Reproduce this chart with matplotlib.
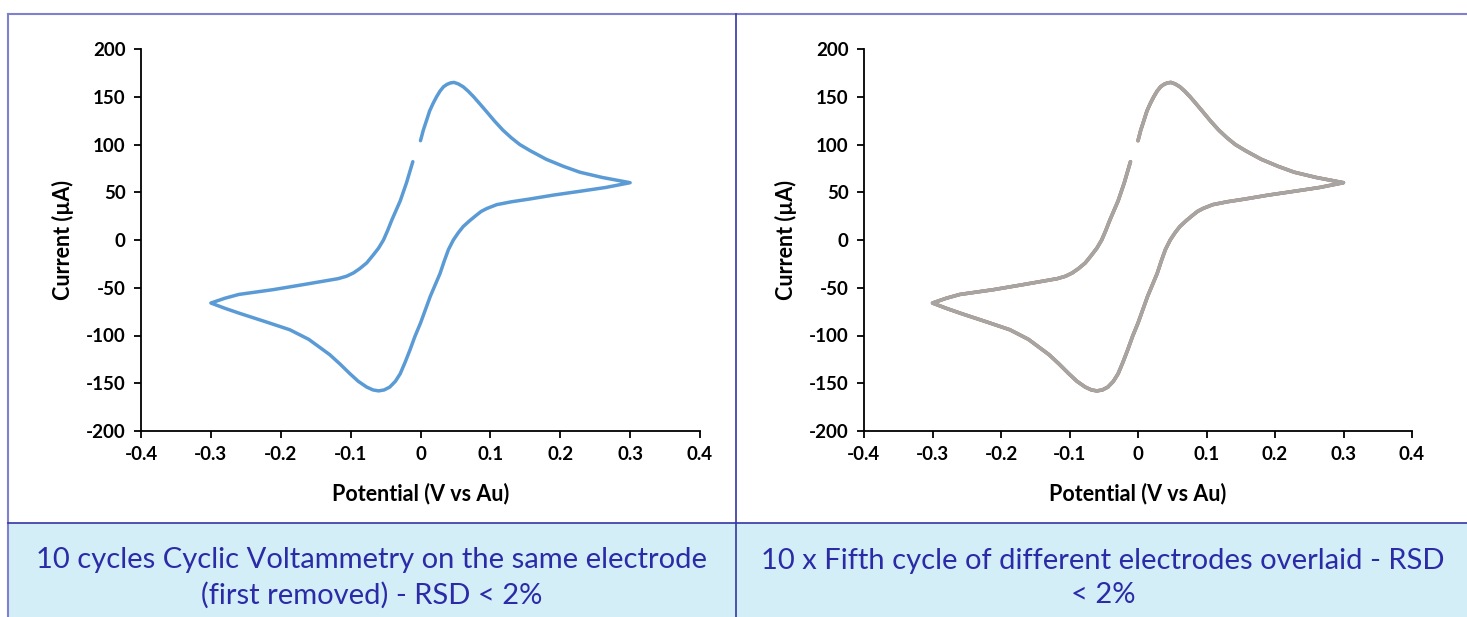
import matplotlib
matplotlib.use("Agg")
import matplotlib.pyplot as plt
from matplotlib.patches import Rectangle
from matplotlib.lines import Line2D
from matplotlib.ticker import FuncFormatter

plt.rcParams["axes.unicode_minus"] = False

# potential (V vs Au) and current (uA), one CV cycle
# starts just after 0 V, oxidation peak, vertex at 0.3 V, back through the
# reduction peak to -0.3 V and forward again up to -0.01 V (gap near 0 V)
potential = [0.000, 0.004, 0.009, 0.013, 0.018, 0.023, 0.028, 0.033, 0.038,
             0.043, 0.048, 0.054, 0.061, 0.068, 0.076, 0.085, 0.095, 0.106,
             0.118, 0.130, 0.142, 0.157, 0.180, 0.205, 0.228, 0.260, 0.300,
             0.265, 0.228, 0.190, 0.157, 0.130, 0.109, 0.095, 0.087, 0.080,
             0.070, 0.061, 0.054, 0.047, 0.040, 0.034, 0.028, 0.021, 0.014,
             0.007, 0.000, -0.008, -0.015, -0.022, -0.029, -0.036, -0.044,
             -0.052, -0.060, -0.068, -0.077, -0.089, -0.101, -0.115, -0.130,
             -0.160, -0.187, -0.220, -0.258, -0.280, -0.300,
             -0.280, -0.260, -0.211, -0.170, -0.130, -0.118, -0.106, -0.096,
             -0.087, -0.077, -0.068, -0.060, -0.053, -0.047, -0.041, -0.035,
             -0.029, -0.020, -0.011]
current = [104, 115, 126, 135, 143, 150, 156, 160.5, 163,
           164.5, 165, 163.5, 160.5, 156, 150, 142.5, 134, 124.5,
           115, 107, 100, 93.5, 84.5, 77, 71, 65.5, 60,
           55, 51, 47, 43, 40, 37, 33, 30, 26,
           20, 14, 7.5, 0, -10, -22, -35, -47, -59,
           -73, -87, -101, -115, -128, -140, -148, -154,
           -157, -158, -157, -154, -148, -140, -130, -120,
           -104, -94, -86, -77, -71.5, -66,
           -61, -57, -52, -47, -42, -40.5, -38, -34.5,
           -30, -24, -16, -8.5, 0, 10, 21, 31,
           41, 60, 82]

xticks = [-0.4, -0.3, -0.2, -0.1, 0, 0.1, 0.2, 0.3, 0.4]
yticks = [-200, -150, -100, -50, 0, 50, 100, 150, 200]

captions = ["10 cycles Cyclic Voltammetry on the same electrode\n(first removed) - RSD < 2%",
            "10 x Fifth cycle of different electrodes overlaid - RSD\n< 2%"]

W, H = 1467, 617
fig = plt.figure(figsize=(W / 100, H / 100), dpi=100)


def fx(px):
    return px / W


def fy(py):
    return 1 - py / H


def style(ax, width_px):
    ax.set_xlim(-0.4, 0.4)
    ax.set_ylim(-200, 200)
    ax.set_xticks(xticks)
    ax.set_yticks(yticks)
    ax.xaxis.set_major_formatter(FuncFormatter(lambda v, p: f"{v:g}"))
    ax.spines["top"].set_visible(False)
    ax.spines["right"].set_visible(False)
    for s in ("left", "bottom"):
        ax.spines[s].set_linewidth(1.3)
    ax.tick_params(direction="out", length=5, width=1.3, pad=6)
    for lab in ax.get_xticklabels() + ax.get_yticklabels():
        lab.set_fontfamily("Lato")
        lab.set_fontweight("bold")
        lab.set_fontsize(13.5)
    ax.set_xlabel("Potential (V vs Au)", fontfamily="Lato", fontweight="bold",
                  fontsize=15.5)
    ax.set_ylabel("Current (µA)", fontfamily="Lato", fontweight="bold",
                  fontsize=15.5)
    ax.xaxis.set_label_coords(0.5, -52 / 382, transform=ax.transAxes)
    ax.yaxis.set_label_coords(-67 / width_px, 0.5, transform=ax.transAxes)


line_kw = dict(lw=2.5, solid_capstyle="round", solid_joinstyle="round")

ax1 = fig.add_axes([fx(141), fy(431), fx(700 - 141), (431 - 49) / H])
ax1.plot(potential, current, color="#5B9BD5", **line_kw)
style(ax1, 559)

ax2 = fig.add_axes([fx(864), fy(431), fx(1412 - 864), (431 - 49) / H])
# several electrodes overlaid, the grey one ends on top
for c in ["#5B9BD5", "#ED7D31", "#A5A5A5"]:
    ax2.plot(potential, current, color=c, **line_kw)
style(ax2, 548)

# caption band and table-like borders
fig.add_artist(Rectangle((fx(8), 0), 1 - fx(8), fy(523), transform=fig.transFigure,
                         facecolor="#D3EEF7", edgecolor="none", zorder=0))
outer = "#8080D0"
inner = "#3535A5"
fig.add_artist(Line2D([fx(8), 1], [fy(14), fy(14)], color=outer, lw=1.5))
fig.add_artist(Line2D([fx(8), fx(8)], [0, fy(14)], color=outer, lw=1.5))
fig.add_artist(Line2D([fx(8), 1], [fy(523), fy(523)], color=inner, lw=1.2))
fig.add_artist(Line2D([fx(736), fx(736)], [0, fy(14)], color=inner, lw=1.2))

for cx, txt in zip([372, 1103], captions):
    fig.text(fx(cx), fy(578), txt, ha="center", va="center", color="#2B2BA8",
             fontfamily="Lato", fontsize=21, linespacing=1.4)

fig.savefig("out.png", dpi=100)
